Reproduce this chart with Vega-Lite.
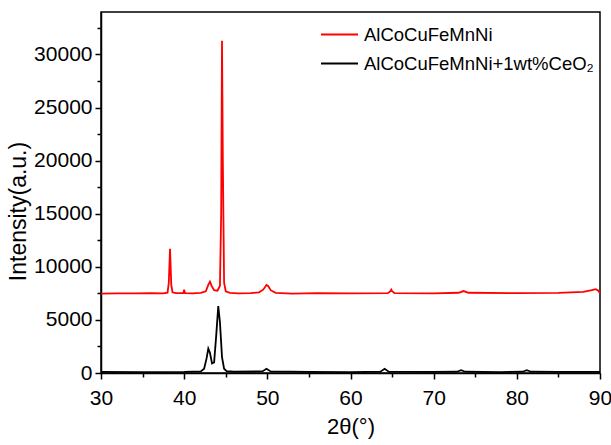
{
  "$schema": "https://vega.github.io/schema/vega-lite/v6.json",
  "width": 499,
  "height": 361,
  "autosize": {"type": "none"},
  "padding": {"left": 101, "top": 12, "right": 11, "bottom": 72},
  "background": "white",
  "config": {
    "font": "Liberation Sans",
    "view": {"stroke": "black", "strokeWidth": 1.5}
  },
  "data": {"values": [
    {"t": 30, "i": 7480, "s": "AlCoCuFeMnNi"},
    {"t": 32, "i": 7500, "s": "AlCoCuFeMnNi"},
    {"t": 34, "i": 7490, "s": "AlCoCuFeMnNi"},
    {"t": 36, "i": 7510, "s": "AlCoCuFeMnNi"},
    {"t": 37.5, "i": 7500, "s": "AlCoCuFeMnNi"},
    {"t": 38.0, "i": 7560, "s": "AlCoCuFeMnNi"},
    {"t": 38.15, "i": 8500, "s": "AlCoCuFeMnNi"},
    {"t": 38.3, "i": 11700, "s": "AlCoCuFeMnNi"},
    {"t": 38.45, "i": 8300, "s": "AlCoCuFeMnNi"},
    {"t": 38.6, "i": 7600, "s": "AlCoCuFeMnNi"},
    {"t": 39.0, "i": 7520, "s": "AlCoCuFeMnNi"},
    {"t": 39.9, "i": 7520, "s": "AlCoCuFeMnNi"},
    {"t": 40.0, "i": 7850, "s": "AlCoCuFeMnNi"},
    {"t": 40.1, "i": 7520, "s": "AlCoCuFeMnNi"},
    {"t": 41, "i": 7500, "s": "AlCoCuFeMnNi"},
    {"t": 42, "i": 7540, "s": "AlCoCuFeMnNi"},
    {"t": 42.6, "i": 7700, "s": "AlCoCuFeMnNi"},
    {"t": 42.9, "i": 8300, "s": "AlCoCuFeMnNi"},
    {"t": 43.1, "i": 8600, "s": "AlCoCuFeMnNi"},
    {"t": 43.3, "i": 8200, "s": "AlCoCuFeMnNi"},
    {"t": 43.6, "i": 7800, "s": "AlCoCuFeMnNi"},
    {"t": 44.0, "i": 7750, "s": "AlCoCuFeMnNi"},
    {"t": 44.3, "i": 8200, "s": "AlCoCuFeMnNi"},
    {"t": 44.45, "i": 15000, "s": "AlCoCuFeMnNi"},
    {"t": 44.55, "i": 31300, "s": "AlCoCuFeMnNi"},
    {"t": 44.65, "i": 20000, "s": "AlCoCuFeMnNi"},
    {"t": 44.8, "i": 8500, "s": "AlCoCuFeMnNi"},
    {"t": 45.0, "i": 7700, "s": "AlCoCuFeMnNi"},
    {"t": 45.5, "i": 7550, "s": "AlCoCuFeMnNi"},
    {"t": 46.5, "i": 7500, "s": "AlCoCuFeMnNi"},
    {"t": 48, "i": 7520, "s": "AlCoCuFeMnNi"},
    {"t": 49.0, "i": 7600, "s": "AlCoCuFeMnNi"},
    {"t": 49.5, "i": 7850, "s": "AlCoCuFeMnNi"},
    {"t": 49.9, "i": 8300, "s": "AlCoCuFeMnNi"},
    {"t": 50.1, "i": 8200, "s": "AlCoCuFeMnNi"},
    {"t": 50.4, "i": 7800, "s": "AlCoCuFeMnNi"},
    {"t": 51, "i": 7550, "s": "AlCoCuFeMnNi"},
    {"t": 53, "i": 7480, "s": "AlCoCuFeMnNi"},
    {"t": 56, "i": 7520, "s": "AlCoCuFeMnNi"},
    {"t": 60, "i": 7500, "s": "AlCoCuFeMnNi"},
    {"t": 64.5, "i": 7520, "s": "AlCoCuFeMnNi"},
    {"t": 64.8, "i": 7700, "s": "AlCoCuFeMnNi"},
    {"t": 64.9, "i": 7850, "s": "AlCoCuFeMnNi"},
    {"t": 65.0, "i": 7700, "s": "AlCoCuFeMnNi"},
    {"t": 65.3, "i": 7520, "s": "AlCoCuFeMnNi"},
    {"t": 70, "i": 7500, "s": "AlCoCuFeMnNi"},
    {"t": 73.0, "i": 7560, "s": "AlCoCuFeMnNi"},
    {"t": 73.6, "i": 7720, "s": "AlCoCuFeMnNi"},
    {"t": 74.2, "i": 7560, "s": "AlCoCuFeMnNi"},
    {"t": 80, "i": 7520, "s": "AlCoCuFeMnNi"},
    {"t": 85, "i": 7550, "s": "AlCoCuFeMnNi"},
    {"t": 88, "i": 7650, "s": "AlCoCuFeMnNi"},
    {"t": 89, "i": 7800, "s": "AlCoCuFeMnNi"},
    {"t": 89.5, "i": 7900, "s": "AlCoCuFeMnNi"},
    {"t": 89.8, "i": 7750, "s": "AlCoCuFeMnNi"},
    {"t": 90, "i": 7500, "s": "AlCoCuFeMnNi"},
    {"t": 30, "i": 100, "s": "AlCoCuFeMnNi+1wt%CeO₂"},
    {"t": 35, "i": 90, "s": "AlCoCuFeMnNi+1wt%CeO₂"},
    {"t": 40, "i": 100, "s": "AlCoCuFeMnNi+1wt%CeO₂"},
    {"t": 42.0, "i": 150, "s": "AlCoCuFeMnNi+1wt%CeO₂"},
    {"t": 42.4, "i": 400, "s": "AlCoCuFeMnNi+1wt%CeO₂"},
    {"t": 42.7, "i": 1400, "s": "AlCoCuFeMnNi+1wt%CeO₂"},
    {"t": 42.9, "i": 2300, "s": "AlCoCuFeMnNi+1wt%CeO₂"},
    {"t": 43.1, "i": 1900, "s": "AlCoCuFeMnNi+1wt%CeO₂"},
    {"t": 43.35, "i": 900, "s": "AlCoCuFeMnNi+1wt%CeO₂"},
    {"t": 43.6, "i": 1000, "s": "AlCoCuFeMnNi+1wt%CeO₂"},
    {"t": 43.85, "i": 3500, "s": "AlCoCuFeMnNi+1wt%CeO₂"},
    {"t": 44.1, "i": 6300, "s": "AlCoCuFeMnNi+1wt%CeO₂"},
    {"t": 44.3, "i": 4800, "s": "AlCoCuFeMnNi+1wt%CeO₂"},
    {"t": 44.55, "i": 1500, "s": "AlCoCuFeMnNi+1wt%CeO₂"},
    {"t": 44.8, "i": 400, "s": "AlCoCuFeMnNi+1wt%CeO₂"},
    {"t": 45.1, "i": 180, "s": "AlCoCuFeMnNi+1wt%CeO₂"},
    {"t": 46, "i": 120, "s": "AlCoCuFeMnNi+1wt%CeO₂"},
    {"t": 49.4, "i": 150, "s": "AlCoCuFeMnNi+1wt%CeO₂"},
    {"t": 49.9, "i": 400, "s": "AlCoCuFeMnNi+1wt%CeO₂"},
    {"t": 50.4, "i": 150, "s": "AlCoCuFeMnNi+1wt%CeO₂"},
    {"t": 55, "i": 100, "s": "AlCoCuFeMnNi+1wt%CeO₂"},
    {"t": 60, "i": 90, "s": "AlCoCuFeMnNi+1wt%CeO₂"},
    {"t": 63.6, "i": 120, "s": "AlCoCuFeMnNi+1wt%CeO₂"},
    {"t": 64.1, "i": 400, "s": "AlCoCuFeMnNi+1wt%CeO₂"},
    {"t": 64.6, "i": 120, "s": "AlCoCuFeMnNi+1wt%CeO₂"},
    {"t": 70, "i": 100, "s": "AlCoCuFeMnNi+1wt%CeO₂"},
    {"t": 72.8, "i": 120, "s": "AlCoCuFeMnNi+1wt%CeO₂"},
    {"t": 73.3, "i": 260, "s": "AlCoCuFeMnNi+1wt%CeO₂"},
    {"t": 73.8, "i": 120, "s": "AlCoCuFeMnNi+1wt%CeO₂"},
    {"t": 78, "i": 90, "s": "AlCoCuFeMnNi+1wt%CeO₂"},
    {"t": 80.7, "i": 120, "s": "AlCoCuFeMnNi+1wt%CeO₂"},
    {"t": 81.2, "i": 270, "s": "AlCoCuFeMnNi+1wt%CeO₂"},
    {"t": 81.7, "i": 120, "s": "AlCoCuFeMnNi+1wt%CeO₂"},
    {"t": 85, "i": 100, "s": "AlCoCuFeMnNi+1wt%CeO₂"},
    {"t": 90, "i": 100, "s": "AlCoCuFeMnNi+1wt%CeO₂"}
  ]},
  "mark": {"type": "line", "strokeWidth": 1.8, "clip": true},
  "encoding": {
    "x": {
      "field": "t", "type": "quantitative",
      "scale": {"domain": [30, 90], "nice": false, "zero": false},
      "axis": {
        "title": "2θ(°)",
        "values": [30, 35, 40, 45, 50, 55, 60, 65, 70, 75, 80, 85, 90],
        "labelExpr": "datum.value % 10 === 0 ? datum.label : ''",
        "grid": false,
        "domainColor": "black", "domainWidth": 1.5,
        "tickColor": "black", "tickWidth": 1.5,
        "tickSize": {"condition": {"test": "datum.value % 10 === 0", "value": 6}, "value": 4},
        "labelFont": "Liberation Sans", "labelFontSize": 21, "labelColor": "black",
        "labelPadding": 8, "labelFlush": false,
        "titleFont": "Liberation Sans", "titleFontSize": 22, "titleFontWeight": "normal",
        "titleColor": "black", "titlePadding": 8
      }
    },
    "y": {
      "field": "i", "type": "quantitative",
      "scale": {"domain": [0, 34000], "nice": false},
      "axis": {
        "title": "Intensity(a.u.)",
        "values": [0, 2500, 5000, 7500, 10000, 12500, 15000, 17500, 20000, 22500, 25000, 27500, 30000, 32500],
        "labelExpr": "datum.value % 5000 === 0 ? datum.value : ''",
        "grid": false,
        "domainColor": "black", "domainWidth": 1.5,
        "tickColor": "black", "tickWidth": 1.5,
        "tickSize": {"condition": {"test": "datum.value % 5000 === 0", "value": 6}, "value": 4},
        "labelFont": "Liberation Sans", "labelFontSize": 21, "labelColor": "black",
        "labelPadding": 3,
        "titleFont": "Liberation Sans", "titleFontSize": 23, "titleFontWeight": "normal",
        "titleColor": "black", "titlePadding": 3, "titleY": 199
      }
    },
    "color": {
      "field": "s", "type": "nominal",
      "scale": {"domain": ["AlCoCuFeMnNi", "AlCoCuFeMnNi+1wt%CeO₂"], "range": ["#ff0000", "#000000"]},
      "legend": {
        "title": null,
        "orient": "none",
        "legendX": 219,
        "legendY": 3,
        "symbolType": "stroke",
        "symbolSize": 1369,
        "symbolStrokeWidth": 2,
        "labelFont": "Liberation Sans",
        "labelFontSize": 18.5,
        "labelColor": "black",
        "labelLimit": 400,
        "rowPadding": -10,
        "padding": 0,
        "labelOffset": 5
      }
    }
  }
}
